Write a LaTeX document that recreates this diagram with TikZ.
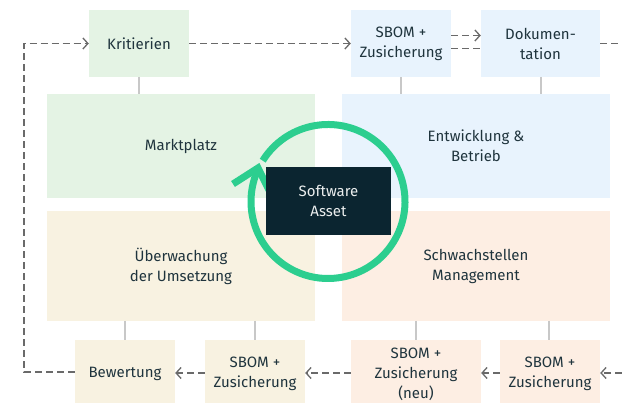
\documentclass[tikz,border=0pt]{standalone}
\usepackage{fontspec}
\setmainfont{Fira Sans}
\usetikzlibrary{arrows.meta}
\definecolor{txt}{HTML}{1F343D}
\definecolor{gbox}{HTML}{E4F3E4}
\definecolor{bbox}{HTML}{E8F3FD}
\definecolor{ybox}{HTML}{F8F2E1}
\definecolor{pbox}{HTML}{FDEEE3}
\definecolor{dark}{HTML}{0B2530}
\definecolor{ring}{HTML}{2CCE8F}
\definecolor{dashc}{HTML}{6A6A6A}
\definecolor{linkc}{HTML}{C8C8C8}
\tikzset{
  box/.style={draw=none, inner sep=0pt, align=center, text=txt,
    font=\fontsize{15}{20}\selectfont},
  small/.style={box, minimum height=67pt},
  flow/.style={dashc, line width=1.3pt, dash pattern=on 7pt off 4pt},
  flowarrow/.style={flow, -{Straight Barb[length=5pt,width=11pt,line width=1.3pt]}},
  link/.style={linkc, line width=1.2pt},
}
\begin{document}
\begin{tikzpicture}[x=1pt,y=1pt]
\useasboundingbox (0,0) rectangle (622,403);
\fill[white] (0,0) rectangle (622,403);

% top row
\node[small, fill=gbox, minimum width=100pt] (krit) at (139,359.5) {Kritierien};
\node[small, fill=bbox, minimum width=100pt] (sbomT) at (401,359.5) {SBOM +\\Zusicherung};
\node[small, fill=bbox, minimum width=119pt] (doku) at (540.5,359.5) {Dokumen-\\tation};

% quadrants
\node[box, fill=gbox, minimum width=268pt, minimum height=104pt] (markt) at (181,257) {Marktplatz};
\node[box, fill=bbox, minimum width=268pt, minimum height=104pt] (entw) at (476,257) {Entwicklung \&\\Betrieb};
\node[box, fill=ybox, minimum width=268pt, minimum height=110pt] (uebw) at (181,137) {Überwachung\\der Umsetzung};
\node[box, fill=pbox, minimum width=268pt, minimum height=110pt] (schw) at (476,137) {Schwachstellen\\Management};

% bottom row
\node[box, fill=ybox, minimum width=100pt, minimum height=68pt] (bew) at (125,29) {Bewertung};
\node[box, fill=ybox, minimum width=100pt, minimum height=68pt] (sbomB) at (255,29) {SBOM +\\Zusicherung};
\node[box, fill=pbox, minimum width=130pt, minimum height=68pt] (sbomN) at (416,29) {SBOM +\\Zusicherung\\(neu)};
\node[box, fill=pbox, minimum width=100pt, minimum height=68pt] (sbomR) at (550,29) {SBOM +\\Zusicherung};

% links between rows
\draw[link] (krit.south) -- (krit.south |- markt.north);
\draw[link] (sbomT.south) -- (sbomT.south |- entw.north);
\draw[link] (541,326) -- (541,309);
\draw[link] (125,82) -- (125,63);
\draw[link] (255,82) -- (255,63);
\draw[link] (416,82) -- (416,63);
\draw[link] (549,82) -- (549,63);

% flow along the top
\coordinate (loopB) at (24,31);
\coordinate (loopT) at (24,359.5);
\coordinate (outT) at (622,359.5);
\coordinate (outB) at (622,30);
\draw[flowarrow] (krit.east) -- (sbomT.west);
\draw[flowarrow] ([yshift=8pt]sbomT.east) -- ([yshift=8pt]doku.west);
\draw[flow] ([yshift=-5pt]sbomT.east) -- ([yshift=-5pt]doku.west);
\draw[flow] (doku.east) -- (outT);

% flow along the bottom
\draw[flowarrow] (outB) -- ([yshift=1pt]sbomR.east);
\draw[flowarrow] ([yshift=1pt]sbomR.west) -- ([yshift=1pt]sbomN.east);
\draw[flowarrow] ([yshift=1pt]sbomN.west) -- ([yshift=1pt]sbomB.east);
\draw[flowarrow] ([yshift=1pt]sbomB.west) -- ([yshift=1pt]bew.east);
\draw[flowarrow] ([yshift=2pt]bew.west) -- (loopB) -- (loopT) -- (krit.west);

% cycle ring around the asset
\draw[ring, line width=7pt] (328,201.5) ++(148:77) arc[start angle=148, end angle=-205, radius=77];
\draw[ring, line width=7pt, line join=miter] (233,219) -- (258,235) -- (270,211);

\node[box, fill=dark, text=white!92!dark, minimum width=125pt, minimum height=68pt] (asset) at (328.5,202) {Software\\Asset};
\end{tikzpicture}
\end{document}
